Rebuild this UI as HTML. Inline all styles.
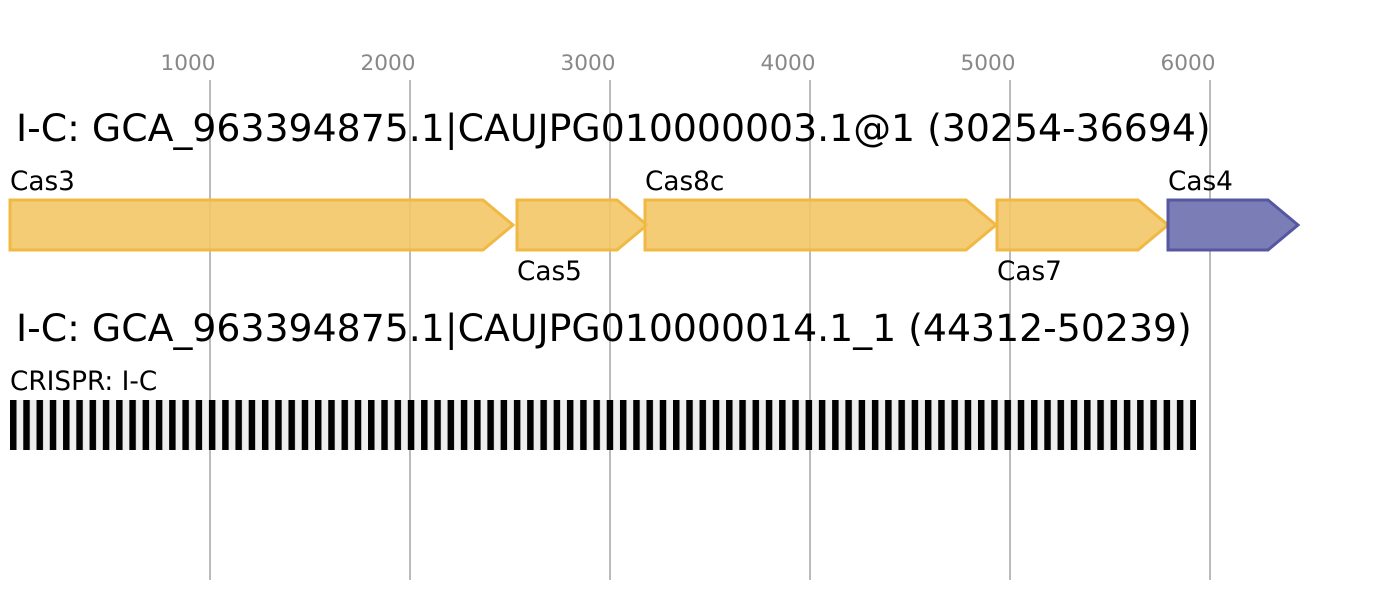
<!DOCTYPE html>
<html><head><style>body{margin:0;background:#fff}svg{display:block}</style></head><body>
<svg width="1388" height="600" xmlns="http://www.w3.org/2000/svg" font-family="'DejaVu Sans','Liberation Sans',sans-serif">
<defs><pattern id="cr" patternUnits="userSpaceOnUse" x="10" y="0" width="13.26" height="600"><rect x="0" y="0" width="6.5" height="600" fill="#000"/></pattern></defs>
<g stroke="#bbb" stroke-width="2">
<line x1="210" y1="80" x2="210" y2="580"/><line x1="410" y1="80" x2="410" y2="580"/><line x1="610" y1="80" x2="610" y2="580"/><line x1="810" y1="80" x2="810" y2="580"/><line x1="1010" y1="80" x2="1010" y2="580"/><line x1="1210" y1="80" x2="1210" y2="580"/>
</g>
<g fill="#888" font-size="21.6" text-anchor="middle">
<text x="188" y="70">1000</text><text x="388" y="70">2000</text><text x="588" y="70">3000</text><text x="788" y="70">4000</text><text x="988" y="70">5000</text><text x="1188" y="70">6000</text>
</g>
<text x="16" y="141" font-size="37.8">I-C: GCA_963394875.1|CAUJPG010000003.1@1 (30254-36694)</text>
<g fill="#f2c766" fill-opacity="0.9" stroke="#f0b944" stroke-width="3">
<polygon points="10,200 483,200 513,225 483,250 10,250"/>
<polygon points="517,200 617,200 647,225 617,250 517,250"/>
<polygon points="645,200 966,200 996,225 966,250 645,250"/>
<polygon points="997,200 1138,200 1168,225 1138,250 997,250"/>
</g>
<polygon points="1168,200 1268,200 1298,225 1268,250 1168,250" fill="#7b7db6" stroke="#5558a0" stroke-width="3"/>
<g font-size="26.3" fill="#000">
<text x="10" y="190">Cas3</text><text x="517" y="280">Cas5</text><text x="645" y="190">Cas8c</text><text x="997" y="280">Cas7</text><text x="1168" y="190">Cas4</text>
</g>
<text x="16" y="341" font-size="37.8">I-C: GCA_963394875.1|CAUJPG010000014.1_1 (44312-50239)</text>
<text x="10" y="390" font-size="26.3">CRISPR: I-C</text>
<rect x="10" y="400" width="1186" height="50" fill="#eee"/>
<rect x="10" y="400" width="1186" height="50" fill="url(#cr)"/>
</svg>
</body></html>
